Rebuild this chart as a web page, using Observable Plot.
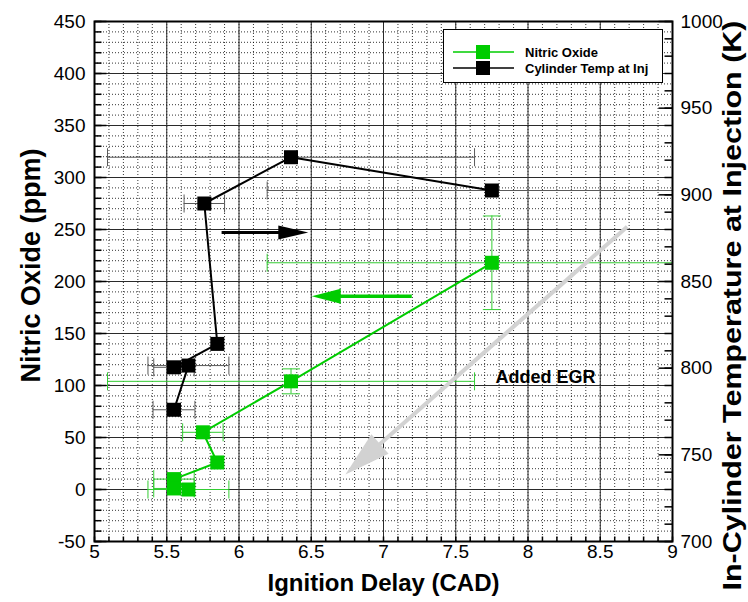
<!DOCTYPE html>
<html>
<head>
<meta charset="utf-8">
<script src="https://cdn.jsdelivr.net/npm/d3@7"></script>
<script src="https://cdn.jsdelivr.net/npm/@observablehq/plot@0.6"></script>
<style>
  body { margin: 0; background: #fff; }
  #chart { position: relative; width: 748px; height: 602px; font-family: "Liberation Sans", Arial, sans-serif; }
  #chart svg { display: block; }
  #legend { position: absolute; left: 443px; top: 29px; width: 220px; height: 54px; box-sizing: border-box;
            border: 1px solid #000; background: #fff; }
  #legend .row { position: absolute; left: 9px; height: 16px; display: flex; align-items: center; }
  #legend span { font: bold 13px "Liberation Sans", Arial, sans-serif; margin-left: 10px; color: #000; }
</style>
</head>
<body>
<div id="chart">
  <div id="legend">
    <div class="row" style="top:14px"><svg width="62" height="16"><line x1="0" y1="8" x2="61" y2="8" stroke="#00cc00" stroke-width="1.5"/><rect x="23" y="1" width="14" height="14" fill="#00cc00"/></svg><span>Nitric Oxide</span></div>
    <div class="row" style="top:30px"><svg width="62" height="16"><line x1="0" y1="8" x2="61" y2="8" stroke="#000" stroke-width="1.5"/><rect x="23" y="1" width="14" height="14" fill="#000"/></svg><span>Cylinder Temp at Inj</span></div>
  </div>
</div>
<script>
// Test points, listed in order of increasing EGR
const noDelay      = [7.75, 6.36, 5.75, 5.85, 5.55, 5.65, 5.55];   // ignition delay (CAD)
const nitricOxide  = [218, 104, 55, 26, 10, 0, 1];                  // ppm
const noDelayErr   = [1.555, 1.27, 0.14, 0, 0.14, 0.28, 0.14];      // ± CAD
const noErr        = [45, 12, 0, 0, 0, 0, 0];                       // ± ppm

const tempDelay    = [7.75, 6.36, 5.76, 5.85, 5.55, 5.65, 5.55];   // ignition delay (CAD)
const cylTemp      = [902.5, 921.7, 895, 814, 800.5, 801.5, 776];  // K
const tempDelayErr = [1.555, 1.27, 0.14, 0, 0.14, 0.28, 0.145];    // ± CAD

// Axis ticks
const xMajor = [5, 5.5, 6, 6.5, 7, 7.5, 8, 8.5, 9];
const yMajor = [-50, 0, 50, 100, 150, 200, 250, 300, 350, 400, 450];
const tempMajor = [700, 750, 800, 850, 900, 950, 1000];

// Annotation arrows [x1, y1, x2, y2] in (CAD, ppm), drawn from tail to tip
const arrowTempDir = [5.883, 246.6, 6.483, 246.6];
const arrowNODir   = [7.199, 185.3, 6.507, 185.3];
const arrowEGR     = [8.69, 252.2, 6.74, 14];
const egrLabel     = {x: 7.775, y: 107.5, text: "Added EGR"};

// The temperature axis on the right shares the ppm scale: 700 K ↔ -50 ppm, 1000 K ↔ 450 ppm
const kToPpm = k => (k - 700) / 0.6 - 50;
const ppmToK = p => 700 + (p + 50) * 0.6;

const GREEN = "#00cc00";
const RIGHT_TITLE = "In-Cylinder Temperature at Injection (K)";

const noRows = noDelay.map((x, i) => ({x, y: nitricOxide[i], ex: noDelayErr[i], ey: noErr[i]}));
const tRows = tempDelay.map((x, i) => ({x, y: kToPpm(cylTemp[i]), ex: tempDelayErr[i]}));

// Symbols used for error-bar caps and axis ticks
const line = (dx, dy, x0 = 0, y0 = 0) => ({draw(c) { c.moveTo(x0, y0); c.lineTo(x0 + dx, y0 + dy); }});
const vCap = line(0, 18, 0, -9);
const hCap = line(18, 0, -9, 0);

const range = (a, b, s) => d3.range(Math.round(a / s), Math.round(b / s) + 1).map(k => +(k * s).toFixed(6));
const xMinor = range(5, 9, 0.1);
const yMinor = range(-50, 450, 10);
const tempMinor = range(700, 1000, 10).map(kToPpm);

function hErrorBars(rows, color) {
  const r = rows.filter(d => d.ex > 0);
  return [
    Plot.ruleY(r, {y: "y", x1: d => d.x - d.ex, x2: d => d.x + d.ex, stroke: color, strokeWidth: 1, clip: true}),
    Plot.dot(r, {x: d => d.x - d.ex, y: "y", symbol: vCap, stroke: color, fill: "none", strokeWidth: 1, clip: true}),
    Plot.dot(r, {x: d => d.x + d.ex, y: "y", symbol: vCap, stroke: color, fill: "none", strokeWidth: 1, clip: true})
  ];
}
function vErrorBars(rows, color) {
  const r = rows.filter(d => d.ey > 0);
  return [
    Plot.ruleX(r, {x: "x", y1: d => d.y - d.ey, y2: d => d.y + d.ey, stroke: color, strokeWidth: 1}),
    Plot.dot(r, {x: "x", y: d => d.y - d.ey, symbol: hCap, stroke: color, fill: "none", strokeWidth: 1}),
    Plot.dot(r, {x: "x", y: d => d.y + d.ey, symbol: hCap, stroke: color, fill: "none", strokeWidth: 1})
  ];
}

// Filled-head arrows, positioned through the x and y scales
function arrows(list) {
  return (index, {x, y}) => {
    const g = d3.create("svg:g");
    for (const a of list) {
      const [X1, Y1, X2, Y2] = a.pts;
      const x1 = x(X1), y1 = y(Y1), x2 = x(X2), y2 = y(Y2);
      const len = Math.hypot(x2 - x1, y2 - y1), ux = (x2 - x1) / len, uy = (y2 - y1) / len;
      const bx = x2 - ux * a.head, by = y2 - uy * a.head;
      g.append("line").attr("x1", x1).attr("y1", y1).attr("x2", bx + ux * 3).attr("y2", by + uy * 3)
        .attr("stroke", a.color).attr("stroke-width", a.width);
      g.append("path")
        .attr("d", `M${x2},${y2}L${bx - uy * a.half},${by + ux * a.half}L${bx + uy * a.half},${by - ux * a.half}Z`)
        .attr("fill", a.color);
    }
    return g.node();
  };
}

const titleStyle = {fontWeight: "bold", fill: "#000", textAnchor: "middle", lineAnchor: "middle"};

const chart = Plot.plot({
  width: 748,
  height: 602,
  marginLeft: 94,
  marginRight: 76,
  marginTop: 21,
  marginBottom: 61,
  style: {fontFamily: "'Liberation Sans', Arial, sans-serif", background: "#fff", overflow: "visible"},
  x: {domain: [5, 9], label: null},
  y: {domain: [-50, 450], label: null},
  marks: [
    // dotted minor grid
    Plot.gridX(xMinor, {stroke: "#000", strokeOpacity: 0.8, strokeDasharray: "1,2"}),
    Plot.gridY(yMinor, {stroke: "#000", strokeOpacity: 0.8, strokeDasharray: "1,2"}),
    // solid major grid
    Plot.gridX(xMajor, {stroke: "#2a2a2a", strokeOpacity: 1, strokeWidth: 1}),
    Plot.gridY(yMajor, {stroke: "#2a2a2a", strokeOpacity: 1, strokeWidth: 1}),

    // error bars
    ...hErrorBars(tRows, "#5a5a5a"),
    ...hErrorBars(noRows, "#33cc33"),
    ...vErrorBars(noRows, "#33cc33"),

    // series
    Plot.line(tRows, {x: "x", y: "y", stroke: "#000", strokeWidth: 2}),
    Plot.line(noRows, {x: "x", y: "y", stroke: GREEN, strokeWidth: 2}),
    Plot.dot(tRows, {x: "x", y: "y", symbol: "square", r: 7.9, fill: "#000"}),
    Plot.dot(noRows, {x: "x", y: "y", symbol: "square", r: 7.9, fill: GREEN}),

    // annotations
    arrows([
      {pts: arrowEGR, color: "#d2d2d2", width: 4, head: 46, half: 13},
      {pts: arrowTempDir, color: "#000", width: 3, head: 30, half: 7},
      {pts: arrowNODir, color: GREEN, width: 3.5, head: 29, half: 7.5}
    ]),
    Plot.text([egrLabel], {x: "x", y: "y", text: "text", textAnchor: "start", fontSize: 18, fontWeight: "bold", fill: "#000"}),

    // inward ticks
    Plot.dot(xMinor, {x: d => d, frameAnchor: "bottom", symbol: line(0, -5), stroke: "#000", fill: "none"}),
    Plot.dot(yMinor, {y: d => d, frameAnchor: "left", symbol: line(7, 0), stroke: "#000", fill: "none"}),
    Plot.dot(yMajor, {y: d => d, frameAnchor: "left", symbol: line(12, 0), stroke: "#000", fill: "none", strokeWidth: 1.5}),
    Plot.dot(tempMinor, {y: d => d, frameAnchor: "right", symbol: line(-8, 0), stroke: "#000", fill: "none"}),
    Plot.dot(tempMajor.map(kToPpm), {y: d => d, frameAnchor: "right", symbol: line(-14, 0), stroke: "#000", fill: "none", strokeWidth: 1.5}),

    // tick labels
    Plot.axisX({ticks: xMajor, tickSize: 0, tickPadding: 3, fontSize: 19, tickFormat: d => String(d), label: null}),
    Plot.axisY({anchor: "left", ticks: yMajor, tickSize: 0, tickPadding: 9, fontSize: 19, tickFormat: d => String(d), label: null}),
    Plot.axisY({anchor: "right", ticks: tempMajor.map(kToPpm), tickSize: 0, tickPadding: 8, fontSize: 19,
                tickFormat: d => String(Math.round(ppmToK(d))), label: null}),

    Plot.frame({stroke: "#000", strokeWidth: 2}),

    // axis titles
    Plot.text(["Ignition Delay (CAD)"], {frameAnchor: "bottom", dy: 42, fontSize: 24, ...titleStyle}),
    Plot.text(["Nitric Oxide (ppm)"], {frameAnchor: "left", dx: -63, dy: -16, rotate: -90, fontSize: 27, ...titleStyle}),
    Plot.text([RIGHT_TITLE], {frameAnchor: "right", dx: 60, dy: 24, rotate: -90, fontSize: 26, ...titleStyle})
  ]
});

// the long right-hand title runs nearly the full height of the figure
for (const t of chart.querySelectorAll("text")) {
  if (t.textContent === RIGHT_TITLE) {
    t.setAttribute("textLength", 570);
    t.setAttribute("lengthAdjust", "spacingAndGlyphs");
  }
}

document.getElementById("chart").prepend(chart);
</script>
</body>
</html>
